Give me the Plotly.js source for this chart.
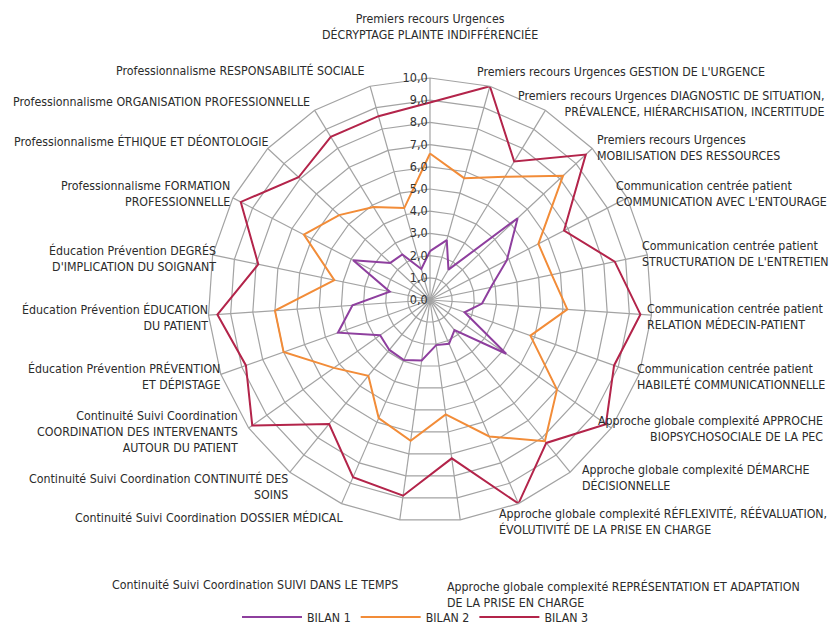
<!DOCTYPE html>
<html>
<head>
<meta charset="utf-8">
<script src="https://cdn.plot.ly/plotly-3.0.1.min.js"></script>
<style>html,body{margin:0;padding:0;background:#fff;}#chart{width:831px;height:626px;}</style>
</head>
<body>
<div id="chart"></div>
<script>
// Categories (label text, with line breaks)
const categories = [
  "Premiers recours Urgences<br>DÉCRYPTAGE PLAINTE INDIFFÉRENCIÉE",
  "Premiers recours Urgences GESTION DE L'URGENCE",
  "Premiers recours Urgences DIAGNOSTIC DE SITUATION,<br>PRÉVALENCE, HIÉRARCHISATION, INCERTITUDE",
  "Premiers recours Urgences<br>MOBILISATION DES RESSOURCES",
  "Communication centrée patient<br>COMMUNICATION AVEC L'ENTOURAGE",
  "Communication centrée patient<br>STRUCTURATION DE L'ENTRETIEN",
  "Communication centrée patient<br>RELATION MÉDECIN-PATIENT",
  "Communication centrée patient<br>HABILETÉ COMMUNICATIONNELLE",
  "Approche globale complexité APPROCHE<br>BIOPSYCHOSOCIALE DE LA PEC",
  "Approche globale complexité DÉMARCHE<br>DÉCISIONNELLE",
  "Approche globale complexité RÉFLEXIVITÉ, RÉÉVALUATION,<br>ÉVOLUTIVITÉ DE LA PRISE EN CHARGE",
  "Approche globale complexité REPRÉSENTATION ET ADAPTATION<br>DE LA PRISE EN CHARGE",
  "Continuité Suivi Coordination SUIVI DANS LE TEMPS",
  "Continuité Suivi Coordination DOSSIER MÉDICAL",
  "Continuité Suivi Coordination CONTINUITÉ DES<br>SOINS",
  "Continuité Suivi Coordination<br>COORDINATION DES INTERVENANTS<br>AUTOUR DU PATIENT",
  "Éducation Prévention PRÉVENTION<br>ET DÉPISTAGE",
  "Éducation Prévention ÉDUCATION<br>DU PATIENT",
  "Éducation Prévention DEGRÉS<br>D'IMPLICATION DU SOIGNANT",
  "Professionnalisme FORMATION<br>PROFESSIONNELLE",
  "Professionnalisme ÉTHIQUE ET DÉONTOLOGIE",
  "Professionnalisme ORGANISATION PROFESSIONNELLE",
  "Professionnalisme RESPONSABILITÉ SOCIALE"
];

// Series values
const bilan1 = [2.2, 2.8, 1.6, 5.4, 3.9, 2.8, 2.35, 1.65, 4.2, 1.75, 2.15, 2.05, 2.75, 2.95, 2.9, 2.75, 4.4, 3.5, 1.85, 3.9, 2.45, 2.4, 1.45];
const bilan2 = [6.6, 5.7, 6.5, 8.2, 5.5, 5.6, 6.2, 4.8, 7.0, 8.2, 6.7, 5.2, 6.4, 5.8, 4.4, 5.3, 7.0, 7.0, 4.4, 6.4, 5.6, 4.9, 4.3];
const bilan3 = [8.9, 10.0, 7.3, 9.6, 6.8, 8.5, 9.5, 8.8, 9.7, 8.3, 10.0, 7.2, 8.9, 8.7, 7.2, 9.8, 8.8, 9.6, 7.9, 9.6, 8.1, 8.6, 8.6];

const seriesNames = ["BILAN 1", "BILAN 2", "BILAN 3"];
const seriesColors = ["#8e3f9e", "#f28c38", "#b3244a"];

// Radial tick values / labels
const radialTicks = [0,1,2,3,4,5,6,7,8,9,10];

// Label placement (layout only): [x px, y px, xanchor, align]
const labelPos = [
  [430, 27, "center", "center"], [475, 72, "left", "left"], [826, 104, "right", "right"], [595, 148, "left", "left"],
  [829, 194, "right", "left"], [640, 254, "left", "left"], [645, 317, "left", "left"], [635, 377, "left", "left"],
  [825, 429, "right", "right"], [580, 477, "left", "left"], [829, 521, "right", "left"], [445, 594, "left", "left"],
  [400, 585, "right", "right"], [345, 517, "right", "right"], [290, 487, "right", "right"], [240, 432, "right", "right"],
  [222, 376, "right", "right"], [210, 317, "right", "right"], [218, 258, "right", "right"], [232, 194, "right", "right"],
  [270, 141, "right", "right"], [312, 102, "right", "right"], [367, 70, "right", "right"]
];

const W = 831, H = 626;
const FONT = '"DejaVu Sans Condensed", "Liberation Sans", sans-serif';

const allSeries = [bilan1, bilan2, bilan3];
const traces = allSeries.map((vals, k) => ({
  type: "scatterpolar",
  r: vals.concat([vals[0]]),
  theta: categories.concat([categories[0]]),
  mode: "lines",
  name: seriesNames[k],
  line: {color: seriesColors[k], width: 2},
  hoverinfo: "skip"
}));

const annotations = categories.map((c, i) => ({
  xref: "paper", yref: "paper",
  x: labelPos[i][0] / W, y: 1 - labelPos[i][1] / H,
  xanchor: labelPos[i][2], yanchor: "middle",
  align: labelPos[i][3],
  text: c, showarrow: false,
  font: {family: FONT, size: 12.3, color: "#2b2b2b"}
}));

const cx = 430, cy = 300, R = 222;
const layout = {
  width: W, height: H,
  margin: {l: 0, r: 0, t: 0, b: 0, autoexpand: false},
  paper_bgcolor: "#ffffff",
  separators: ",.",
  showlegend: true,
  legend: {
    orientation: "h", x: 0.5, xanchor: "center", y: 1 - 617 / H, yanchor: "middle",
    font: {family: FONT, size: 12.3, color: "#2b2b2b"},
    itemwidth: 60, traceorder: "normal"
  },
  polar: {
    domain: {x: [(cx - R) / W, (cx + R) / W], y: [(H - cy - R) / H, (H - cy + R) / H]},
    gridshape: "linear",
    bgcolor: "rgba(0,0,0,0)",
    radialaxis: {
      range: [0, 10], tickvals: radialTicks, ticktext: radialTicks.map(v => v.toFixed(1).replace(".", ",")),
      angle: 90, side: "counterclockwise", tickangle: 90,
      showline: false, ticks: "",
      gridcolor: "#a3a3a3", gridwidth: 1.2,
      tickfont: {family: FONT, size: 12.5, color: "#333333"}
    },
    angularaxis: {
      type: "category", direction: "clockwise", rotation: 90,
      showticklabels: false, ticks: "",
      gridcolor: "#a3a3a3", gridwidth: 1.2,
      linecolor: "#a3a3a3", linewidth: 1.2, showline: true
    }
  },
  annotations: annotations
};

Plotly.newPlot("chart", traces, layout, {displayModeBar: false, staticPlot: true});
</script>
</body>
</html>
